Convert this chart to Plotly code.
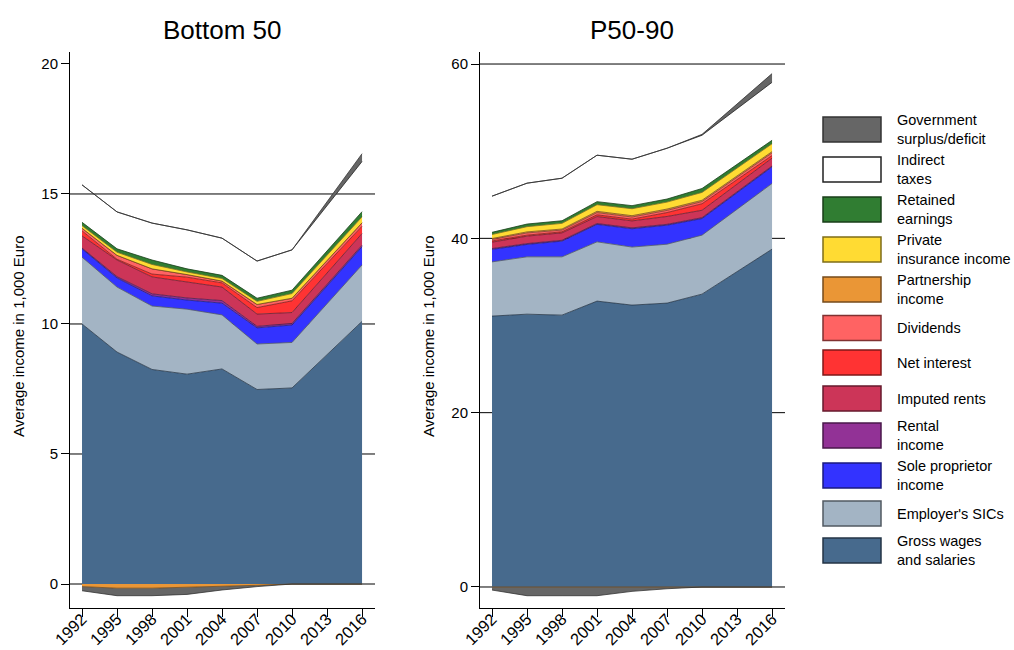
import plotly.graph_objects as go

# Survey years with data (2013 is only a tick)
years = [1992, 1995, 1998, 2001, 2004, 2007, 2010, 2016]
tick_years = [1992, 1995, 1998, 2001, 2004, 2007, 2010, 2013, 2016]
tick_labels = [str(y) for y in tick_years]

# Bottom 50: average income components, 1,000 Euro
b50_wages = [10.0, 8.92, 8.25, 8.07, 8.27, 7.48, 7.54, 10.1]
b50_sics = [2.57, 2.5, 2.44, 2.5, 2.08, 1.75, 1.75, 2.17]
b50_sole = [0.32, 0.35, 0.39, 0.35, 0.45, 0.62, 0.67, 0.7]
b50_rental = [0.03, 0.05, 0.08, 0.08, 0.1, 0.06, 0.06, 0.06]
b50_imputed = [0.47, 0.64, 0.65, 0.62, 0.52, 0.47, 0.42, 0.45]
b50_interest = [0.19, 0.03, 0.11, 0.18, 0.16, 0.25, 0.45, 0.28]
b50_dividends = [0.1, 0.15, 0.2, 0.1, 0.07, 0.12, 0.1, 0.13]
b50_partnership = [-0.1, -0.16, -0.16, -0.13, -0.1, -0.05, 0.0, 0.0]
b50_insurance = [0.1, 0.12, 0.17, 0.1, 0.1, 0.12, 0.18, 0.23]
b50_retained = [0.13, 0.13, 0.17, 0.12, 0.12, 0.12, 0.13, 0.2]
b50_indirect = [1.44, 1.42, 1.42, 1.5, 1.43, 1.43, 1.55, 1.93]
b50_gov = [-0.16, -0.29, -0.29, -0.27, -0.13, -0.05, 0.0, 0.3]

# P50-90: average income components, 1,000 Euro
p5090_wages = [31.08, 31.3, 31.19, 32.8, 32.34, 32.57, 33.6, 38.76]
p5090_sics = [6.22, 6.58, 6.69, 6.8, 6.66, 6.76, 6.77, 7.54]
p5090_sole = [1.43, 1.42, 1.8, 2.0, 2.1, 2.18, 1.9, 1.9]
p5090_rental = [0.1, 0.1, 0.1, 0.1, 0.1, 0.1, 0.1, 0.1]
p5090_imputed = [0.73, 0.85, 0.85, 0.8, 0.8, 0.9, 0.85, 0.9]
p5090_interest = [0.14, 0.12, 0.12, 0.2, 0.2, 0.45, 0.75, 0.3]
p5090_dividends = [0.17, 0.25, 0.2, 0.25, 0.25, 0.25, 0.25, 0.3]
p5090_partnership = [0.11, 0.12, 0.12, 0.15, 0.15, 0.15, 0.15, 0.15]
p5090_insurance = [0.46, 0.6, 0.65, 0.76, 0.8, 0.8, 0.9, 0.9]
p5090_retained = [0.25, 0.3, 0.3, 0.35, 0.35, 0.35, 0.45, 0.4]
p5090_indirect = [4.15, 4.69, 4.88, 5.33, 5.33, 5.83, 6.11, 6.65]
p5090_gov = [-0.35, -1.0, -1.0, -1.0, -0.5, -0.2, 0.1, 1.0]

# Component names (legend order, top to bottom) and styles
labels = {
    "gov": "Government<br>surplus/deficit",
    "indirect": "Indirect<br>taxes",
    "retained": "Retained<br>earnings",
    "insurance": "Private<br>insurance income",
    "partnership": "Partnership<br>income",
    "dividends": "Dividends",
    "interest": "Net interest",
    "imputed": "Imputed rents",
    "rental": "Rental<br>income",
    "sole": "Sole proprietor<br>income",
    "sics": "Employer's SICs",
    "wages": "Gross wages<br>and salaries",
}
fills = {
    "gov": "#666666", "indirect": "#ffffff", "retained": "#307d32",
    "insurance": "#ffdb33", "partnership": "#ea9636", "dividends": "#ff6363",
    "interest": "#ff3333", "imputed": "#cc3558", "rental": "#923296",
    "sole": "#3333ff", "sics": "#a3b4c4", "wages": "#476a8d",
}
# the indirect-tax band is left see-through in the panels
area_fills = dict(fills, indirect="rgba(255,255,255,0)")
edges = {
    "gov": "#333333", "indirect": "#222222", "retained": "#183e19",
    "insurance": "#7f6d19", "partnership": "#754b1b", "dividends": "#803131",
    "interest": "#801919", "imputed": "#661a2c", "rental": "#49194b",
    "sole": "#1a1a80", "sics": "#525a62", "wages": "#243546",
}
legend_order = ["gov", "indirect", "retained", "insurance", "partnership",
                "dividends", "interest", "imputed", "rental", "sole", "sics", "wages"]
stack_order = legend_order[::-1]

panels = [
    ("x", "y", {
        "wages": b50_wages, "sics": b50_sics, "sole": b50_sole, "rental": b50_rental,
        "imputed": b50_imputed, "interest": b50_interest, "dividends": b50_dividends,
        "partnership": b50_partnership, "insurance": b50_insurance,
        "retained": b50_retained, "indirect": b50_indirect, "gov": b50_gov}),
    ("x2", "y2", {
        "wages": p5090_wages, "sics": p5090_sics, "sole": p5090_sole, "rental": p5090_rental,
        "imputed": p5090_imputed, "interest": p5090_interest, "dividends": p5090_dividends,
        "partnership": p5090_partnership, "insurance": p5090_insurance,
        "retained": p5090_retained, "indirect": p5090_indirect, "gov": p5090_gov}),
]

fig = go.Figure()
for xa, ya, series in panels:
    # positive parts stack upward
    for key in stack_order:
        vals = [max(v, 0.0) for v in series[key]]
        fig.add_trace(go.Scatter(
            x=years, y=vals, xaxis=xa, yaxis=ya, mode="lines",
            stackgroup="pos" + xa, fillcolor=area_fills[key],
            line=dict(color=edges[key], width=0.8), showlegend=False,
            hoverinfo="skip"))
    # negative parts stack downward
    for key in ["partnership", "gov"]:
        vals = [min(v, 0.0) for v in series[key]]
        fig.add_trace(go.Scatter(
            x=years, y=vals, xaxis=xa, yaxis=ya, mode="lines",
            stackgroup="neg" + xa, fillcolor=area_fills[key],
            line=dict(color=edges[key], width=0.8), showlegend=False,
            hoverinfo="skip"))

W, H = 1014, 650
FONT = "Liberation Sans, Arial, sans-serif"


def px(x):
    return x / W


def py(y):
    return 1 - y / H


axis_common = dict(
    showline=True, linecolor="#000000", linewidth=1, ticks="outside",
    ticklen=8, tickwidth=1, tickcolor="#000000", showgrid=False, zeroline=False,
    automargin=False,
)
xcommon = dict(axis_common, tickvals=tick_years, ticktext=tick_labels,
               tickangle=-45, ticklabelstandoff=-14,
               tickfont=dict(size=16.5, color="#000000", family=FONT),
               range=[1990.97, 2017.11])
ycommon = dict(axis_common, tickfont=dict(size=15, color="#000000", family=FONT))

fig.update_layout(
    width=W, height=H, margin=dict(l=0, r=0, t=0, b=0, autoexpand=False),
    paper_bgcolor="#ffffff", plot_bgcolor="#ffffff",
    font=dict(family=FONT, color="#000000"),
    xaxis=dict(xcommon, domain=[px(70), px(375)], anchor="y"),
    yaxis=dict(ycommon, domain=[py(608), py(52)], anchor="x",
               range=[-0.923, 20.46], tickvals=[0, 5, 10, 15, 20]),
    xaxis2=dict(xcommon, domain=[px(480), px(785)], anchor="y2"),
    yaxis2=dict(ycommon, domain=[py(608), py(52)], anchor="x2",
                range=[-2.41, 61.38], tickvals=[0, 20, 40, 60]),
)

shapes = []
# horizontal grid lines behind the areas
for ya, xa, levels in [("y", "x", [0, 5, 10, 15]), ("y2", "x2", [0, 20, 40, 60])]:
    for lv in levels:
        shapes.append(dict(type="line", xref=xa + " domain", yref=ya,
                           x0=0, x1=1, y0=lv, y1=lv, layer="below",
                           line=dict(color="#000000", width=1)))

annotations = [
    dict(text="Bottom 50", x=px(222), y=py(30), xref="paper", yref="paper",
         xanchor="center", yanchor="middle", showarrow=False,
         font=dict(size=26, family=FONT, color="#000000")),
    dict(text="P50-90", x=px(632), y=py(30), xref="paper", yref="paper",
         xanchor="center", yanchor="middle", showarrow=False,
         font=dict(size=26, family=FONT, color="#000000")),
]
for xpos in [18, 428]:
    annotations.append(dict(
        text="Average income in 1,000 Euro", x=px(xpos), y=py(336),
        xref="paper", yref="paper", xanchor="center", yanchor="middle",
        showarrow=False, textangle=-90,
        font=dict(size=15, family=FONT, color="#000000")))

# legend boxes and labels
box_centers = [129.5, 169.5, 209.5, 249.5, 289.5, 328, 362.5, 398.5, 435.5, 475.5, 513.5, 550.5]
for key, cy in zip(legend_order, box_centers):
    shapes.append(dict(type="rect", xref="paper", yref="paper",
                       x0=px(823), x1=px(881), y0=py(cy + 12.5), y1=py(cy - 12.5),
                       fillcolor=fills[key], line=dict(color=edges[key], width=1.5)))
    annotations.append(dict(
        text=labels[key], x=px(895), y=py(cy), xref="paper", yref="paper",
        xanchor="left", yanchor="middle", align="left", showarrow=False,
        font=dict(size=14.5, family=FONT, color="#000000")))

fig.update_layout(shapes=shapes, annotations=annotations)
fig.write_html("out.html")
